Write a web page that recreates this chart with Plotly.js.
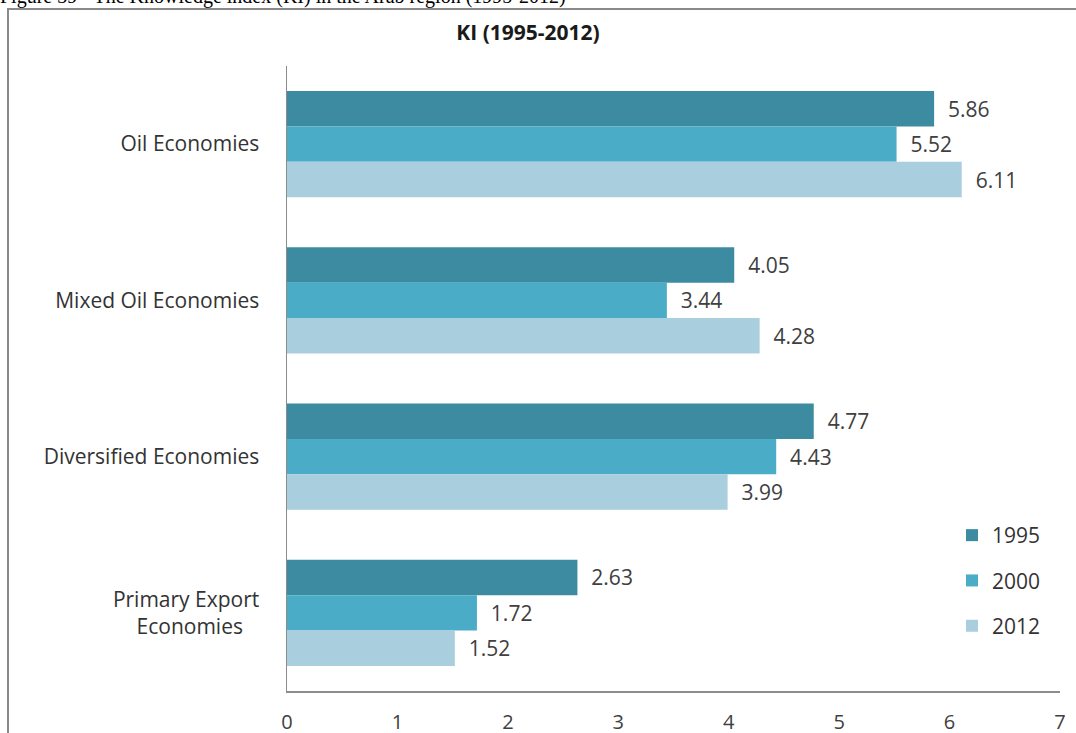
<!DOCTYPE html>
<html>
<head>
<meta charset="utf-8">
<script src="https://cdn.plot.ly/plotly-3.0.1.min.js"></script>
<style>html,body{margin:0;padding:0;background:#fff;}#chart{width:1076px;height:733px;}</style>
</head>
<body>
<div id="chart"></div>
<script>
const categories = ["Oil Economies", "Mixed Oil Economies", "Diversified Economies", "Primary Export Economies"];
const categoryLabels = ["Oil Economies", "Mixed Oil Economies", "Diversified Economies", "Primary Export<br>Economies\u00a0\u00a0\u00a0"];
const seriesNames = ["1995", "2000", "2012"];
const values1995 = [5.86, 4.05, 4.77, 2.63];
const values2000 = [5.52, 3.44, 4.43, 1.72];
const values2012 = [6.11, 4.28, 3.99, 1.52];
const xTicks = [0, 1, 2, 3, 4, 5, 6, 7];
const chartTitle = "KI (1995-2012)";
const caption = "Figure 39 - The Knowledge index (KI) in the Arab region (1995-2012)";

const colors = ["#3C8BA1", "#4AACC6", "#A9CEDD"];
const allValues = [values1995, values2000, values2012];
const fam = "'Open Sans', Lato, sans-serif";
const labelFont = {family: fam, size: 21, color: "#404040"};

const traces = allValues.map((vals, i) => ({
  type: "bar",
  orientation: "h",
  name: seriesNames[i],
  x: vals,
  y: categories,
  marker: {color: colors[i], line: {width: 0}},
  text: vals.map(v => v.toFixed(2)),
  texttemplate: "\u00a0\u00a0%{text}",
  textposition: "outside",
  cliponaxis: false,
  textfont: labelFont,
  legendgroup: "g" + i,
  hoverinfo: "x+name"
}));

const layout = {
  width: 1076,
  height: 733,
  margin: {l: 287, r: 16, t: 66, b: 42},
  paper_bgcolor: "#ffffff",
  plot_bgcolor: "#ffffff",
  barmode: "group",
  bargap: 0.32,
  bargroupgap: 0,
  showlegend: true,
  title: {
    text: "<b>" + chartTitle + "</b>",
    x: 528 / 1076, xref: "container", xanchor: "center",
    y: 1 - 33 / 733, yref: "container", yanchor: "middle",
    font: {family: fam, size: 21, color: "#1a1a1a"}
  },
  xaxis: {
    range: [0, 7],
    tickvals: xTicks,
    ticktext: xTicks.map(String),
    showgrid: false,
    zeroline: false,
    showline: true,
    linecolor: "#8c8c8c",
    linewidth: 1.5,
    ticks: "",
    ticklabelstandoff: 12,
    tickfont: {family: fam, size: 20, color: "#404040"},
    fixedrange: true
  },
  yaxis: {
    type: "category",
    categoryorder: "array",
    categoryarray: categories,
    tickvals: categories,
    ticktext: categoryLabels,
    autorange: "reversed",
    showgrid: false,
    zeroline: false,
    showline: true,
    linecolor: "#8c8c8c",
    linewidth: 1.5,
    ticks: "",
    ticklabelstandoff: 22,
    tickfont: {family: fam, size: 21, color: "#333333"},
    fixedrange: true
  },
  legend: {
    x: (952 - 287) / 773, xanchor: "left",
    y: (691 - 515) / 625, yanchor: "top",
    traceorder: "grouped",
    tracegroupgap: 15,
    font: {family: fam, size: 21, color: "#333333"},
    bgcolor: "rgba(0,0,0,0)",
    itemwidth: 30
  },
  shapes: [{
    type: "rect", xref: "paper", yref: "paper",
    x0: (8 - 287) / 773, x1: (1090 - 287) / 773,
    y0: -0.2, y1: 1 + (66 - 9) / 625,
    line: {color: "#8a8a8a", width: 2},
    fillcolor: "rgba(0,0,0,0)",
    layer: "below"
  }],
  annotations: [{
    text: caption,
    xref: "paper", yref: "paper",
    x: (-2 - 287) / 773, xanchor: "left",
    y: 1 + (66 + 3) / 625, yanchor: "middle",
    showarrow: false,
    font: {family: "'Liberation Serif', 'Times New Roman', serif", size: 20, color: "#000000"}
  }]
};

Plotly.newPlot("chart", traces, layout, {displayModeBar: false, staticPlot: true});
</script>
</body>
</html>
